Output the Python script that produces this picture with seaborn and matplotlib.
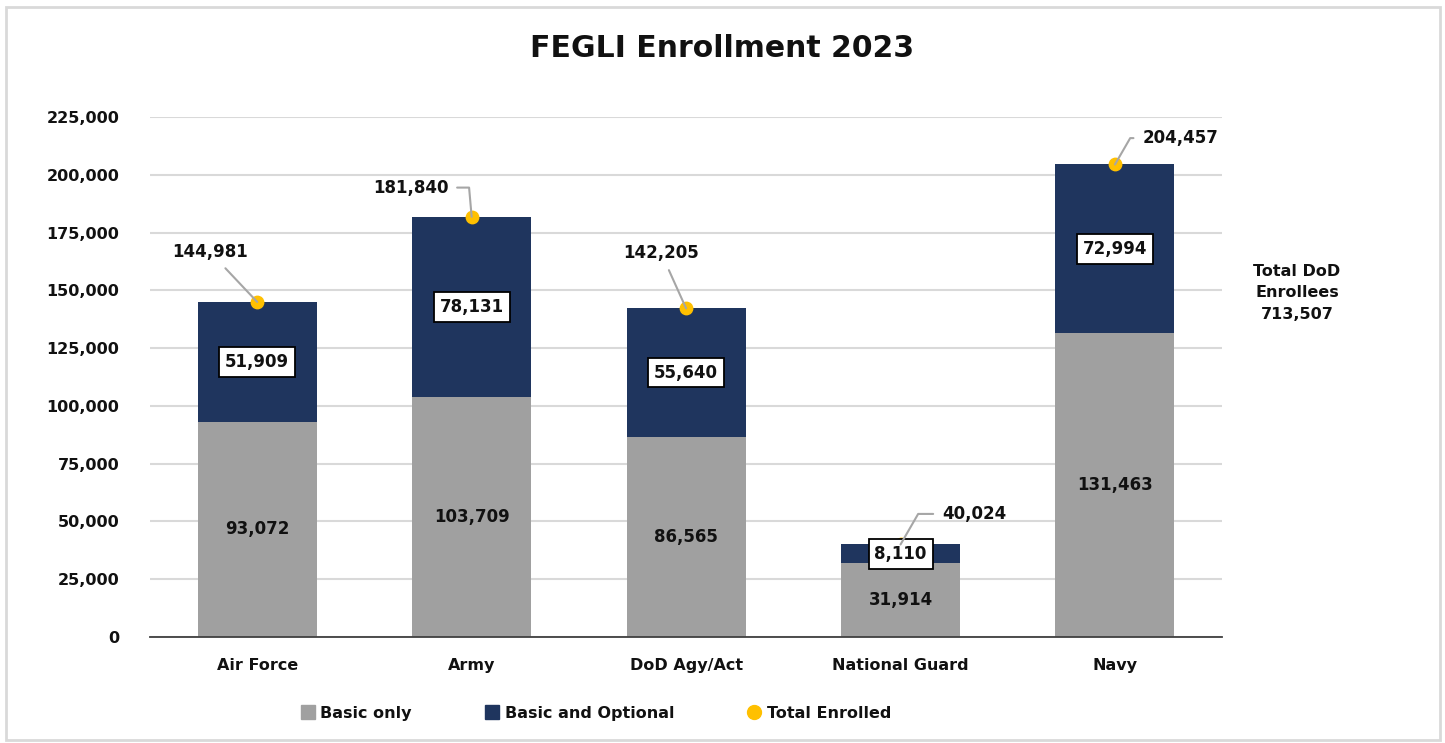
import numpy as np
import pandas as pd
import seaborn as sns
import matplotlib.pyplot as plt
from matplotlib.lines import Line2D
from matplotlib.patches import Rectangle

# data
categories = ['Air Force', 'Army', 'DoD Agy/Act', 'National Guard', 'Navy']
basic_only = [93072, 103709, 86565, 31914, 131463]
basic_optional = [51909, 78131, 55640, 8110, 72994]
yticks = [0, 25000, 50000, 75000, 100000, 125000, 150000, 175000, 200000, 225000]

GREY = '#A0A0A0'
NAVY = '#1F355E'
GOLD = '#FFC000'
INK = '#111111'

df = pd.DataFrame({'category': categories,
                   'basic': basic_only,
                   'optional': basic_optional})
df['total'] = df['basic'] + df['optional']

sns.set_theme(style='white')
plt.rcParams['font.family'] = ['DejaVu Sans']
plt.rcParams['font.weight'] = 'bold'

fig = plt.figure(figsize=(14.45, 7.43), dpi=100)
ax = fig.add_axes([0.1038, 0.1427, 0.742, 0.6998])

# stacked bars: total (navy) underneath, basic (grey) drawn over it
sns.barplot(data=df, x='category', y='total', color=NAVY, width=0.555,
            saturation=1, linewidth=0, ax=ax, zorder=2)
sns.barplot(data=df, x='category', y='basic', color=GREY, width=0.555,
            saturation=1, linewidth=0, ax=ax, zorder=3)

x = np.arange(len(categories))
ax.scatter(x, df['total'], s=80, color=GOLD, zorder=5, clip_on=False)

# axes styling
ax.set_ylim(0, 225000)
ax.set_xlim(-0.5, len(categories) - 0.5)
ax.set_yticks(yticks)
ax.set_yticklabels([f'{v:,}' for v in yticks], fontsize=11.5,
                   fontweight='bold', color=INK)
ax.set_xticklabels(categories, fontsize=11.5, fontweight='bold', color=INK)
ax.tick_params(axis='y', length=0, pad=22)
ax.tick_params(axis='x', length=0, pad=15)
ax.set_xlabel('')
ax.set_ylabel('')
ax.grid(axis='y', color='#D9D9D9', linewidth=1.5, zorder=0)
ax.set_axisbelow(True)
for s in ['top', 'right', 'left']:
    ax.spines[s].set_visible(False)
ax.spines['bottom'].set_color('#404040')
ax.spines['bottom'].set_linewidth(1.3)
ax.spines['bottom'].set_zorder(4)

# labels inside segments
for i, row in df.iterrows():
    ax.text(i, row['basic'] / 2, f"{row['basic']:,}", ha='center', va='center',
            fontsize=12, fontweight='bold', color=INK, zorder=6)
    ax.text(i, row['basic'] + row['optional'] / 2, f"{row['optional']:,}",
            ha='center', va='center', fontsize=12, fontweight='bold',
            color=INK, zorder=6,
            bbox=dict(boxstyle='square,pad=0.35', fc='white', ec='black', lw=1.3))

# total callouts with leader lines
offsets = [(-34, 36), (-44, 21), (-18, 40), (53, 22), (47, 19)]
conns = ['arc3', 'angle,angleA=0,angleB=95,rad=0', 'arc3',
         'angle,angleA=0,angleB=60,rad=0', 'angle,angleA=0,angleB=60,rad=0']
for i, row in df.iterrows():
    ax.annotate(f"{row['total']:,}", xy=(i, row['total']),
                xytext=offsets[i], textcoords='offset points',
                ha='center', va='center', fontsize=12, fontweight='bold',
                color=INK, zorder=6, annotation_clip=False,
                arrowprops=dict(arrowstyle='-', color='#A6A6A6', lw=1.5,
                                shrinkA=4, shrinkB=0,
                                connectionstyle=conns[i]))

fig.text(0.5, 0.935, 'FEGLI Enrollment 2023', ha='center', va='center',
         fontsize=21.5, fontweight='bold', color=INK)

fig.text(0.8976, 0.6057, f"Total DoD\nEnrollees\n{df['total'].sum():,}",
         ha='center', va='center', fontsize=11.5, fontweight='bold',
         linespacing=1.55, color=INK)

handles = [
    Line2D([], [], marker='s', linestyle='', color=GREY, markersize=10),
    Line2D([], [], marker='s', linestyle='', color=NAVY, markersize=10),
    Line2D([], [], marker='o', linestyle='', color=GOLD, markersize=10),
]
leg = fig.legend(handles, ['Basic only', 'Basic and Optional', 'Total Enrolled'],
                 loc='center', bbox_to_anchor=(0.412, 0.04), ncol=3, frameon=False,
                 columnspacing=4.5, handlelength=1, handletextpad=0.3,
                 prop={'size': 11.5, 'weight': 'bold'})
for t in leg.get_texts():
    t.set_color(INK)

fig.patches.append(Rectangle((0.0042, 0.004), 0.9925, 0.9866,
                             transform=fig.transFigure, fill=False,
                             edgecolor='#D9D9D9', linewidth=2))

fig.savefig('out.png', dpi=100)
